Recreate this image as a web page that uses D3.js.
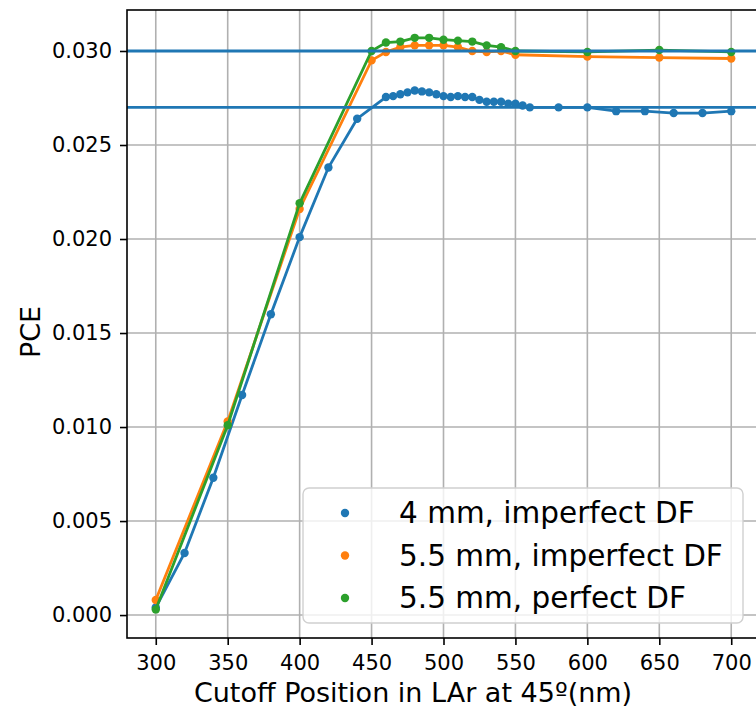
<html>
<head>
    <script src="https://d3js.org/d3.v7.min.js"></script>
    <style>
        body { margin: 0; background: #fff; }
        svg text { font-family: "DejaVu Sans", sans-serif; fill: #000; }
    </style>
</head>
<body>
<div id="chart"></div>
<script>
    // 4 mm, imperfect DF
    var blueX = [300, 320, 340, 360, 380, 400, 420, 440,
        460, 465, 470, 475, 480, 485, 490, 495, 500, 505, 510, 515, 520,
        525, 530, 535, 540, 545, 550, 555, 560,
        580, 600, 620, 640, 660, 680, 700];
    var blueY = [0.0004, 0.0033, 0.0073, 0.0117, 0.0160, 0.0201, 0.0238, 0.0264,
        0.02755, 0.0276, 0.0277, 0.0278, 0.0279, 0.02785, 0.0278, 0.0277, 0.0276, 0.02755, 0.0276, 0.02755, 0.02755,
        0.0274, 0.0273, 0.0273, 0.0273, 0.0272, 0.0272, 0.0271, 0.0270,
        0.0270, 0.0270, 0.0268, 0.0268, 0.0267, 0.0267, 0.0268];

    // 5.5 mm series share x positions
    var wideX = [300, 350, 400, 450, 460, 470, 480, 490, 500, 510, 520, 530, 540, 550, 600, 650, 700];
    var orangeY = [0.0008, 0.0103, 0.0216, 0.0295, 0.02995, 0.0302, 0.0303, 0.0303, 0.0303, 0.0302,
        0.0300, 0.02995, 0.0300, 0.0298, 0.0297, 0.02965, 0.0296];
    var greenY = [0.0003, 0.0101, 0.0219, 0.0300, 0.03045, 0.0305, 0.0307, 0.0307, 0.0306, 0.03055,
        0.0305, 0.0303, 0.0302, 0.0300, 0.02995, 0.03005, 0.02995];

    var refLines = [0.030, 0.027];
    var xTicks = [300, 350, 400, 450, 500, 550, 600, 650, 700];
    var yTicks = [0, 0.005, 0.010, 0.015, 0.020, 0.025, 0.030];
    var labels = ["4 mm, imperfect DF", "5.5 mm, imperfect DF", "5.5 mm, perfect DF"];
    var colors = ["#1f77b4", "#ff7f0e", "#2ca02c"];

    var width = 756, height = 709;
    var axLeft = 127, axTop = 10, axBottom = 638, axRight = 760;

    var svg = d3.select("#chart").append("svg")
        .attr("width", width)
        .attr("height", height);

    var x = d3.scaleLinear().domain([280, 720]).range([axLeft, axRight]);
    var y = d3.scaleLinear().domain([-0.00122, 0.03218]).range([axBottom, axTop]);

    // grid
    svg.append("g").selectAll("line").data(xTicks).enter().append("line")
        .attr("x1", d => x(d)).attr("x2", d => x(d))
        .attr("y1", axTop).attr("y2", axBottom)
        .attr("stroke", "#b0b0b0").attr("stroke-width", 1.6);
    svg.append("g").selectAll("line").data(yTicks).enter().append("line")
        .attr("x1", axLeft).attr("x2", axRight)
        .attr("y1", d => y(d)).attr("y2", d => y(d))
        .attr("stroke", "#b0b0b0").attr("stroke-width", 1.6);

    var series = [
        {xs: blueX, ys: blueY},
        {xs: wideX, ys: orangeY},
        {xs: wideX, ys: greenY}
    ];

    var line = d3.line().x(d => x(d[0])).y(d => y(d[1]));

    series.forEach(function(s, i) {
        var pts = s.xs.map((v, j) => [v, s.ys[j]]);
        svg.append("path")
            .attr("d", line(pts))
            .attr("fill", "none")
            .attr("stroke", colors[i])
            .attr("stroke-width", 2.8);
        svg.append("g").selectAll("circle").data(pts).enter().append("circle")
            .attr("cx", d => x(d[0]))
            .attr("cy", d => y(d[1]))
            .attr("r", 4.2)
            .attr("fill", colors[i]);
    });

    // horizontal reference lines
    svg.append("g").selectAll("line").data(refLines).enter().append("line")
        .attr("x1", axLeft).attr("x2", axRight)
        .attr("y1", d => y(d)).attr("y2", d => y(d))
        .attr("stroke", "#1f77b4").attr("stroke-width", 2.8);

    // axes
    var xAxis = svg.append("g")
        .attr("transform", "translate(0," + axBottom + ")")
        .call(d3.axisBottom(x).tickValues(xTicks).tickSize(7).tickPadding(6).tickFormat(d3.format("d")));
    var yAxis = svg.append("g")
        .attr("transform", "translate(" + axLeft + ",0)")
        .call(d3.axisLeft(y).tickValues(yTicks).tickSize(7).tickPadding(8).tickFormat(d3.format(".3f")));
    [xAxis, yAxis].forEach(function(a) {
        a.select(".domain").remove();
        a.selectAll(".tick line").attr("stroke", "#000").attr("stroke-width", 1.6);
        a.selectAll(".tick text").attr("font-size", 21).style("font-family", "DejaVu Sans").attr("fill", "#222");
    });
    xAxis.selectAll(".tick text").attr("dy", "0.9em");

    // spines
    svg.append("rect")
        .attr("x", axLeft).attr("y", axTop)
        .attr("width", axRight - axLeft).attr("height", axBottom - axTop)
        .attr("fill", "none").attr("stroke", "#000").attr("stroke-width", 1.6);

    // axis labels
    svg.append("text")
        .attr("x", 413).attr("y", 702)
        .attr("text-anchor", "middle")
        .attr("font-size", 27)
        .attr("fill", "#222")
        .text("Cutoff Position in LAr at 45º(nm)");
    svg.append("text")
        .attr("transform", "translate(40,332) rotate(-90)")
        .attr("text-anchor", "middle")
        .attr("font-size", 27)
        .attr("fill", "#222")
        .text("PCE");

    // legend
    var lg = svg.append("g");
    lg.append("rect")
        .attr("x", 303).attr("y", 488)
        .attr("width", 440).attr("height", 135)
        .attr("rx", 6)
        .attr("fill", "#fff").attr("fill-opacity", 0.8)
        .attr("stroke", "#d0d0d0").attr("stroke-width", 1.4);
    var item = lg.selectAll("g.item").data(labels).enter().append("g")
        .attr("class", "item")
        .attr("transform", (d, i) => "translate(0," + (513 + i * 42.5) + ")");
    item.append("circle")
        .attr("cx", 345).attr("cy", 0).attr("r", 4.2)
        .attr("fill", (d, i) => colors[i]);
    item.append("text")
        .attr("x", 399).attr("y", 10)
        .attr("font-size", 29.5)
        .attr("fill", "#222")
        .text(d => d);
</script>
</body>
</html>
